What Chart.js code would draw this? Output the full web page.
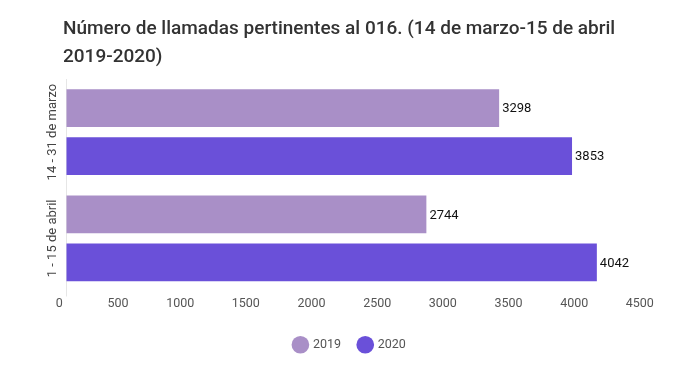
<!DOCTYPE html>
<html>
<head>
<meta charset="utf-8">
<script src="https://cdn.jsdelivr.net/npm/chart.js@4/dist/chart.umd.min.js"></script>
<style>
  html, body { margin: 0; padding: 0; background: #fff; }
  #wrap { width: 700px; height: 369px; position: relative; }
</style>
</head>
<body>
<div id="wrap"><canvas id="llamadas"></canvas></div>
<script>
// Chart data
const titleLines = ["Número de llamadas pertinentes al 016. (14 de marzo-15 de abril", "2019-2020)"];
const categories = ["14 - 31 de marzo", "1 - 15 de abril"];
const values2019 = [3298, 2744];
const values2020 = [3853, 4042];
const seriesNames = ["2019", "2020"];
const xTicks = [0, 500, 1000, 1500, 2000, 2500, 3000, 3500, 4000, 4500];

const colors = ["#a98fc7", "#6a50d9"];

// Title, rotated category labels and value labels drawn on top
const extraText = {
  id: "extraText",
  afterDraw(chart) {
    const ctx = chart.ctx;
    ctx.save();
    // title
    ctx.fillStyle = "#333333";
    ctx.font = "500 19px Roboto";
    ctx.textAlign = "left";
    ctx.textBaseline = "alphabetic";
    titleLines.forEach((line, i) => ctx.fillText(line, 63, 34 + i * 28));

    // category labels (vertical)
    const yScale = chart.scales.y;
    ctx.fillStyle = "#444444";
    ctx.font = "13px Roboto";
    ctx.textAlign = "center";
    ctx.textBaseline = "middle";
    categories.forEach((c, i) => {
      ctx.save();
      ctx.translate(53, yScale.getPixelForValue(i));
      ctx.rotate(-Math.PI / 2);
      ctx.fillText(c, 0, 0);
      ctx.restore();
    });

    // value labels at the end of each bar
    ctx.fillStyle = "#111111";
    ctx.font = "13px Roboto";
    ctx.textAlign = "left";
    chart.data.datasets.forEach((ds, d) => {
      chart.getDatasetMeta(d).data.forEach((bar, i) => {
        ctx.fillText(ds.data[i], bar.x + 3, bar.y + 1);
      });
    });
    ctx.restore();
  }
};

var ctx = document.getElementById("llamadas").getContext("2d");
var myChart = new Chart(ctx, {
  type: "bar",
  data: {
    labels: categories,
    datasets: [
      { label: seriesNames[0], data: values2019, backgroundColor: colors[0] },
      { label: seriesNames[1], data: values2020, backgroundColor: colors[1] },
    ],
  },
  plugins: [extraText],
  options: {
    indexAxis: "y",
    responsive: true,
    maintainAspectRatio: false,
    animation: false,
    categoryPercentage: 0.9,
    barPercentage: 0.79,
    layout: { padding: { top: 79, left: 43, right: 43, bottom: 8 } },
    scales: {
      x: {
        min: 0,
        max: 4500,
        afterBuildTicks: (scale) => { scale.ticks = xTicks.map((v) => ({ value: v })); },
        afterFit: (scale) => { scale.height += 9; },
        grid: {
          drawOnChartArea: false,
          drawTicks: true,
          tickLength: 5,
          color: (c) => (c.index === 0 ? "#e6e6e6" : "rgba(0,0,0,0)"),
        },
        border: { display: false },
        ticks: {
          align: "end",
          padding: 0,
          color: "#555555",
          font: { family: "Roboto", size: 12.5 },
          callback: (v) => v + " ",
        },
      },
      y: {
        grid: { drawOnChartArea: false, drawTicks: false },
        border: { display: true, color: "#e6e6e6" },
        ticks: { display: false },
        afterFit: (scale) => { scale.width = 23; },
      },
    },
    plugins: {
      title: { display: false },
      tooltip: { enabled: false },
      legend: {
        position: "bottom",
        labels: {
          usePointStyle: true,
          pointStyle: "circle",
          boxWidth: 15,
          boxHeight: 15,
          padding: 18,
          color: "#555555",
          font: { family: "Roboto", size: 12.5 },
        },
      },
    },
  },
});
</script>
</body>
</html>
